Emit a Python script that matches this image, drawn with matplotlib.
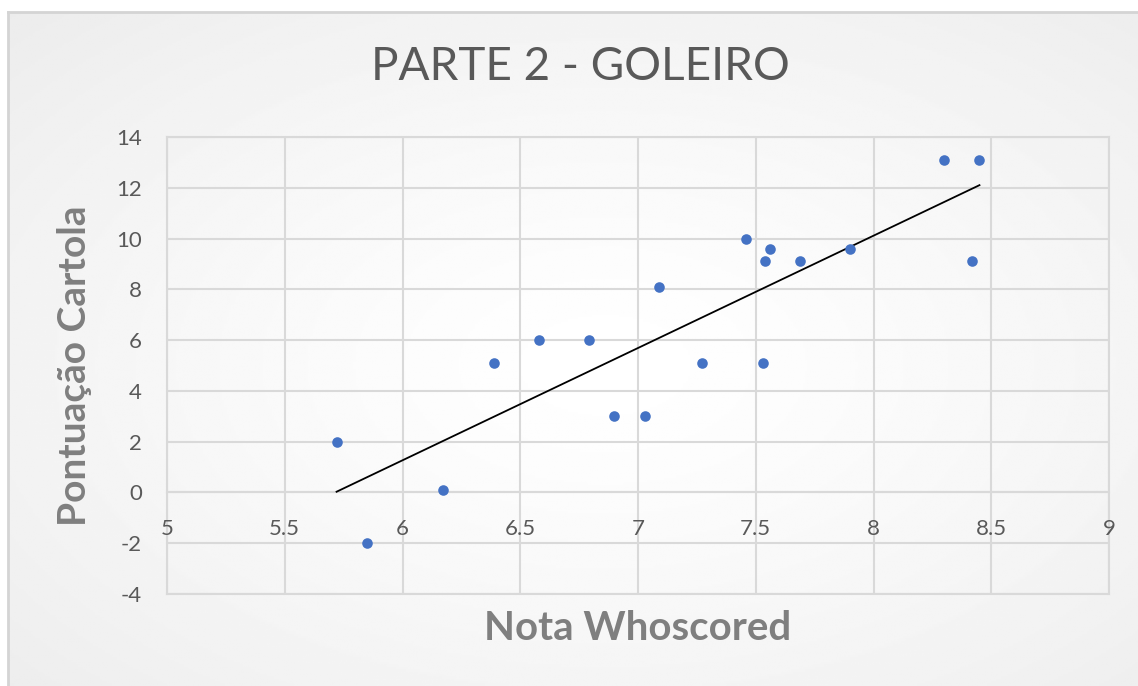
import numpy as np
import matplotlib
matplotlib.use("Agg")
import matplotlib.pyplot as plt

# notas whoscored x pontuacao cartola (goleiros)
nota_whoscored = [5.72, 5.85, 6.17, 6.39, 6.58, 6.79, 6.90, 7.03, 7.09, 7.27,
                  7.46, 7.53, 7.54, 7.56, 7.69, 7.90, 8.30, 8.45, 8.42]
pontuacao = [2.0, -2.0, 0.1, 5.1, 6.0, 6.0, 3.0, 3.0, 8.1, 5.1,
             10.0, 5.1, 9.1, 9.6, 9.1, 9.6, 13.1, 13.1, 9.1]

x_ticks = [5, 5.5, 6, 6.5, 7, 7.5, 8, 8.5, 9]
x_labels = ['5', '5.5', '6', '6.5', '7', '7.5', '8', '8.5', '9']
y_ticks = [-4, -2, 0, 2, 4, 6, 8, 10, 12, 14]
y_labels = ['-4', '-2', '0', '2', '4', '6', '8', '10', '12', '14']

plt.rcParams['font.family'] = ['Lato', 'DejaVu Sans']

W, H = 1138, 686
fig = plt.figure(figsize=(W / 100, H / 100), dpi=100)
fig.patch.set_facecolor('white')

# fundo do grafico com gradiente radial, estilo excel (borda so em cima e a esquerda)
bg = fig.add_axes([8 / W, -0.05, 1.05, 1.05 - 12 / H])
yy, xx = np.mgrid[-1:1:300j, -1:1:500j]
r = np.sqrt(xx ** 2 + yy ** 2) / np.sqrt(2)
grad = 1 - 0.075 * r ** 1.3
bg.imshow(grad, cmap='gray', vmin=0, vmax=1, aspect='auto', extent=[0, 1, 0, 1])
bg.set_xticks([])
bg.set_yticks([])
for s in bg.spines.values():
    s.set_color('#d4d4d4')
    s.set_linewidth(2)
bg.set_zorder(0)

ax = fig.add_axes([167 / W, 1 - 594 / H, (1109 - 167) / W, (594 - 137) / H])
ax.set_facecolor('none')
ax.set_zorder(1)

grid_c = '#d9d9d9'
ax.set_xlim(5, 9)
ax.set_ylim(-4, 14)
ax.set_xticks(x_ticks)
ax.set_yticks(y_ticks)
ax.set_xticklabels(x_labels)
ax.set_yticklabels(y_labels)
ax.grid(True, color=grid_c, linewidth=1.5)
ax.set_axisbelow(True)
for s in ['top', 'left', 'right']:
    ax.spines[s].set_color(grid_c)
    ax.spines[s].set_linewidth(1.5)
    ax.spines[s].set_zorder(0.5)
ax.spines['bottom'].set_position(('data', 0))
ax.spines['bottom'].set_color(grid_c)
ax.spines['bottom'].set_linewidth(1.5)
ax.spines['bottom'].set_zorder(0.5)
ax.axhline(-4, color=grid_c, linewidth=1.5, clip_on=False, zorder=0.5)

ax.tick_params(axis='x', length=0, pad=19, labelsize=16, labelcolor='#595959')
ax.tick_params(axis='y', length=0, pad=18, labelsize=16, labelcolor='#595959')

ax.scatter(nota_whoscored, pontuacao, s=58, color='#4472C4', zorder=3,
           linewidths=0)

# linha de tendencia (regressao linear)
a, b = np.polyfit(nota_whoscored, pontuacao, 1)
xt = np.array([min(nota_whoscored), max(nota_whoscored)])
ax.plot(xt, a * xt + b, color='black', linewidth=1.3, zorder=2)

fig.text(580 / W, 1 - 67 / H, 'PARTE 2 - GOLEIRO', ha='center', va='center',
         fontsize=33, color='#595959')
fig.text(638 / W, 1 - 629 / H, 'Nota Whoscored', ha='center', va='center',
         fontsize=29, color='#7f7f7f', fontweight='bold')
fig.text(75 / W, 1 - 366 / H, 'Pontuação Cartola', ha='center', va='center',
         rotation=90, fontsize=28, color='#7f7f7f', fontweight='bold')

fig.savefig('out.png', dpi=100)
